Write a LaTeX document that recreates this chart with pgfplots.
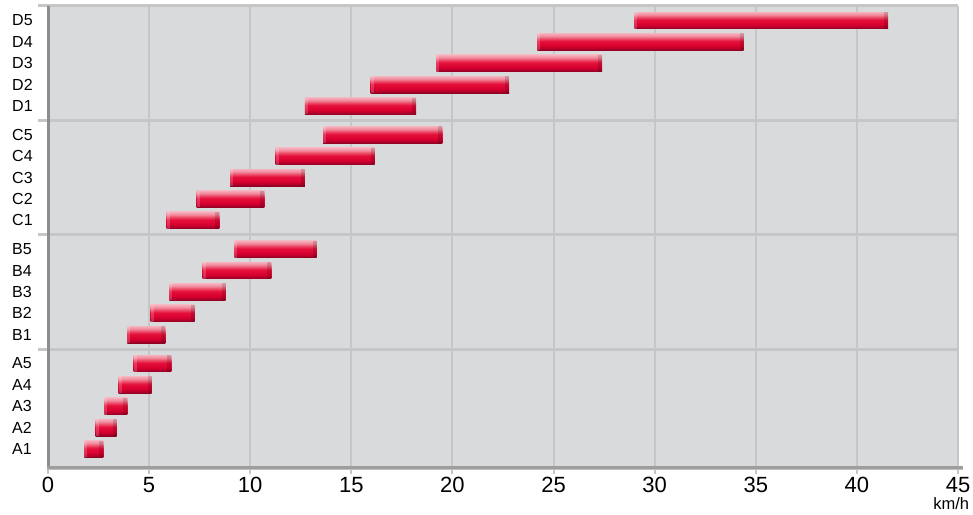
\documentclass[border=0pt]{standalone}
\usepackage{fontspec}
\setmainfont{Liberation Sans}
\usepackage{pgfplots}
\usepackage{pgfplotstable}
\pgfplotsset{compat=1.18}

\definecolor{bg}{HTML}{D9DADC}
\definecolor{gridc}{HTML}{C5C6C8}
\definecolor{axl}{HTML}{8C8D8F}
\definecolor{b1}{HTML}{8C0023}
\definecolor{b2}{HTML}{B0002A}
\definecolor{b3}{HTML}{D8002F}
\definecolor{b4}{HTML}{E5103C}
\definecolor{b5}{HTML}{EC4E6A}
\definecolor{b6}{HTML}{F18A9C}
\definecolor{b7}{HTML}{F5B0BC}

\pgfdeclareverticalshading{redbar}{100bp}{color(0bp)=(b1); color(25bp)=(b1); color(30bp)=(b2); color(38bp)=(b3); color(52bp)=(b4); color(60bp)=(b5); color(67bp)=(b6); color(75bp)=(b7); color(100bp)=(b7)}

% pos = row position, start/end in km/h
\pgfplotstableread{
pos   start end
1     1.80  2.74
2     2.35  3.39
3     2.79  3.93
4     3.49  5.12
5     4.23  6.10
6.35  3.93  5.81
7.35  5.07  7.25
8.35  6.00  8.78
9.35  7.64  11.05
10.35 9.22  13.28
11.70 5.86  8.48
12.70 7.35  10.70
13.70 9.00  12.70
14.70 11.25 16.15
15.70 13.60 19.50
17.05 12.70 18.20
18.05 15.95 22.80
19.05 19.20 27.40
20.05 24.20 34.40
21.05 29.00 41.55
}\speeds

\begin{document}
\begin{tikzpicture}[x=1pt,y=1pt]
\useasboundingbox (0,0) rectangle (973,514);
\begin{axis}[
  at={(48pt,46pt)}, anchor=south west,
  scale only axis, width=910pt, height=462pt,
  xmin=0, xmax=45, ymin=0.11, ymax=21.73,
  disabledatascaling,
  clip=false,
  axis background/.style={fill=bg},
  axis line style={draw=none},
  xtick={0,5,...,45},
  xmajorgrids, grid style={gridc, line width=2pt},
  xtick pos=bottom, tick align=outside, major tick length=6pt,
  xtick style={gridc, line width=2pt},
  ytick={1,2,3,4,5,6.35,7.35,8.35,9.35,10.35,11.7,12.7,13.7,14.7,15.7,17.05,18.05,19.05,20.05,21.05},
  yticklabels={A1,A2,A3,A4,A5,B1,B2,B3,B4,B5,C1,C2,C3,C4,C5,D1,D2,D3,D4,D5},
  ytick style={draw=none},
  /pgf/number format/assume math mode=true,
  xticklabel style={font=\fontsize{22}{22}\selectfont},
  yticklabel style={font=\fontsize{16}{16}\selectfont, anchor=west, inner sep=0pt, xshift=-30pt},
]
% each bar: a shaded box from start to end, drawn at the start point
\addplot[scatter, only marks, mark=none,
  visualization depends on={\thisrow{end}-\thisrow{start} \as \barlen},
  scatter/@pre marker code/.code={%
    \pgfmathsetmacro\bw{\barlen*\pgfplotsunitxlength}%
    \pgfmathsetmacro\bh{0.395*\pgfplotsunitylength}%
    \path[draw=none, shading=redbar] (0pt,-\bh pt) rectangle (\bw pt,\bh pt);
    \path[draw=none, fill=white, fill opacity=0.18] (0pt,-\bh pt) rectangle (3pt,\bh pt);
    \path[draw=none, fill=black, fill opacity=0.15] (\bw pt-4pt,-\bh pt) rectangle (\bw pt,\bh pt);
  },
  scatter/@post marker code/.code={},
] table[x=start, y=pos]{\speeds};

% frame and group separators
\draw[gridc, line width=3pt] (axis cs:-0.5,21.73) -- (axis cs:45,21.73);
\draw[gridc, line width=3pt] (axis cs:-0.5,5.675) -- (axis cs:45,5.675);
\draw[gridc, line width=3pt] (axis cs:-0.5,11.025) -- (axis cs:45,11.025);
\draw[gridc, line width=3pt] (axis cs:-0.5,16.375) -- (axis cs:45,16.375);
\draw[axl, line width=3pt] (axis cs:0,0.11) -- (axis cs:0,21.73);
\draw[black!25, line width=2pt] (axis cs:-0.05,0.04) -- (axis cs:45.25,0.04);
\draw[black!38, line width=2.5pt] (axis cs:-0.05,0.13) -- (axis cs:45.25,0.13);
\node[anchor=base west, inner sep=0pt, font=\fontsize{16.5}{16.5}\selectfont] at (axis cs:43.77,-1.85) {km/h};
\end{axis}
\end{tikzpicture}
\end{document}
